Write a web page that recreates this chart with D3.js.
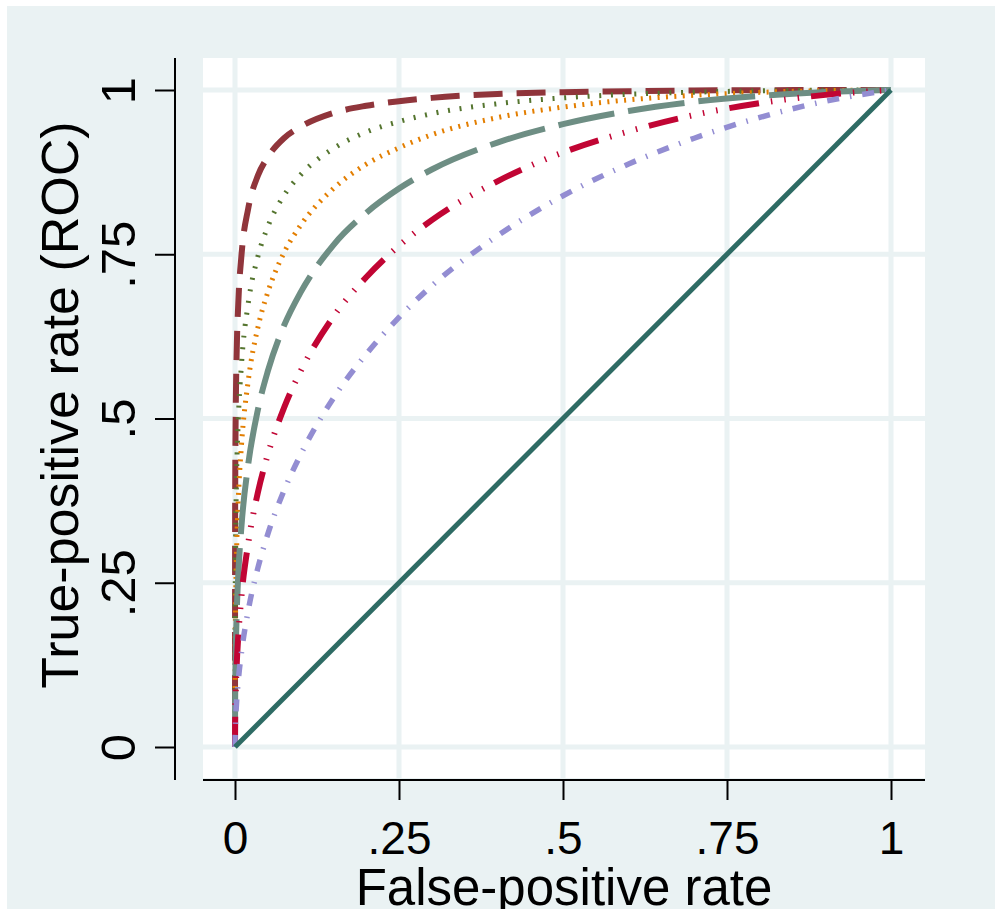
<!DOCTYPE html>
<html><head><meta charset="utf-8">
<script src="https://cdn.jsdelivr.net/npm/d3@7"></script>
<style>
html,body{margin:0;padding:0;background:#fff;}
svg{display:block;}
text{font-family:"Liberation Sans", Arial, Helvetica, sans-serif; fill:#000;}
</style></head><body>
<svg id="chart" width="995" height="909"></svg>
<script>
// ---- data ----
const fpr = [0,0.0002,0.0005,0.001,0.0025,0.005,0.01,0.02,0.035,0.05,0.075,0.1,0.15,0.2,0.25,0.3,0.4,0.5,0.6,0.7,0.8,0.9,1];
const tprMaroon   = [0,0.346,0.431,0.500,0.599,0.675,0.750,0.819,0.870,0.898,0.927,0.944,0.965,0.976,0.983,0.988,0.994,0.9967,0.998,0.9993,0.9997,0.9999,1];
const tprOlive    = [0,0.196,0.263,0.323,0.417,0.497,0.584,0.674,0.747,0.792,0.840,0.871,0.911,0.936,0.952,0.964,0.979,0.988,0.9935,0.9967,0.9987,0.9996,1];
const tprOrange   = [0,0.122,0.172,0.221,0.302,0.376,0.461,0.556,0.639,0.692,0.753,0.794,0.850,0.887,0.912,0.932,0.958,0.974,0.985,0.992,0.9964,0.999,1];
const tprTeal     = [0,0.069,0.103,0.138,0.200,0.262,0.338,0.429,0.514,0.572,0.642,0.692,0.764,0.813,0.850,0.879,0.920,0.948,0.968,0.982,0.991,0.997,1];
const tprCranberry= [0,0.0355,0.0565,0.0794,0.123,0.169,0.231,0.309,0.388,0.445,0.517,0.572,0.655,0.715,0.763,0.802,0.861,0.905,0.937,0.962,0.980,0.9926,1];
const tprLavender = [0,0.0168,0.0284,0.0419,0.0694,0.1008,0.145,0.207,0.273,0.324,0.391,0.445,0.531,0.598,0.654,0.702,0.778,0.839,0.8874,0.9266,0.9583,0.9829,1];
const refX = [0,1];
const refY = [0,1];
const tickValues = [0,0.25,0.5,0.75,1];
const tickLabels = ["0",".25",".5",".75","1"];
const xTitle = "False-positive rate";
const yTitle = "True-positive rate (ROC)";

// ---- styles ----
const series = [
  {y: tprMaroon,    color:"#90353B", width:6,   dash:"29,14"},
  {y: tprOlive,     color:"#55752F", width:5,   dash:"2,9.7"},
  {y: tprOrange,    color:"#E37E00", width:5,   dash:"2,6.4"},
  {y: tprTeal,      color:"#6E8E84", width:6,   dash:"57,14"},
  {y: tprCranberry, color:"#C10534", width:6,   dash:"30,12,1.5,12,1.5,12,1.5,12"},
  {y: tprLavender,  color:"#938DD2", width:5.5, dash:"12,11,1.5,11"}
];

const svg = d3.select("#chart");
const W = 995, H = 909;
const plot = {left:203, right:925, top:58, bottom:778};

svg.append("rect").attr("x",7).attr("y",6).attr("width",W-7).attr("height",H-6).attr("fill","#EAF2F3");
svg.append("rect").attr("x",plot.left).attr("y",plot.top)
   .attr("width",plot.right-plot.left).attr("height",plot.bottom-plot.top).attr("fill","#fff");

const x = d3.scaleLinear().domain([0,1]).range([235,891]);
const y = d3.scaleLinear().domain([0,1]).range([747,90]);

// grid
const grid = svg.append("g");
tickValues.forEach(v=>{
  grid.append("line").attr("x1",x(v)).attr("x2",x(v)).attr("y1",plot.top).attr("y2",plot.bottom)
      .attr("stroke","#EAF2F3").attr("stroke-width",5);
  grid.append("line").attr("x1",plot.left).attr("x2",plot.right).attr("y1",y(v)).attr("y2",y(v))
      .attr("stroke","#EAF2F3").attr("stroke-width",5);
});

// curves
const line = d3.line().x(d=>x(d[0])).y(d=>y(d[1])).curve(d3.curveMonotoneX);
series.forEach(s=>{
  const pts = fpr.map((f,i)=>[f,s.y[i]]);
  svg.append("path").attr("d",line(pts)).attr("fill","none")
     .attr("stroke",s.color).attr("stroke-width",s.width)
     .attr("stroke-dasharray",s.dash).attr("stroke-linecap","butt").attr("stroke-linejoin","round");
});
svg.append("path").attr("d",d3.line().x(d=>x(d[0])).y(d=>y(d[1]))(refX.map((v,i)=>[v,refY[i]])))
   .attr("fill","none").attr("stroke","#2E6B64").attr("stroke-width",5);

// y axis
const yAxis = d3.axisLeft(y).tickValues(tickValues).tickFormat((d,i)=>tickLabels[i]).tickSize(20).tickPadding(0);
const gy = svg.append("g").attr("transform","translate(175,0)").call(yAxis);
gy.select(".domain").remove();
gy.selectAll(".tick line").attr("stroke","#000").attr("stroke-width",2);
gy.selectAll(".tick text").attr("x",null).attr("dy",null)
  .attr("transform","translate(-40,0) rotate(-90)").attr("text-anchor","middle")
  .style("font-size","49px").style("font-family",'"Liberation Sans", Arial, sans-serif').attr("fill","#000");
svg.append("line").attr("x1",175).attr("x2",175).attr("y1",plot.top).attr("y2",plot.bottom+2)
   .attr("stroke","#000").attr("stroke-width",2);

// x axis
const xAxis = d3.axisBottom(x).tickValues(tickValues).tickFormat((d,i)=>tickLabels[i]).tickSize(20).tickPadding(0);
const gx = svg.append("g").attr("transform","translate(0,780)").call(xAxis);
gx.select(".domain").remove();
gx.selectAll(".tick line").attr("stroke","#000").attr("stroke-width",2);
gx.selectAll(".tick text").attr("y",74).attr("dy",null).attr("text-anchor","middle")
  .style("font-size","46px").style("font-family",'"Liberation Sans", Arial, sans-serif').attr("fill","#000");
svg.append("line").attr("x1",plot.left).attr("x2",plot.right).attr("y1",780).attr("y2",780)
   .attr("stroke","#000").attr("stroke-width",2);

// titles
svg.append("text").attr("x",(plot.left+plot.right)/2).attr("y",905).attr("text-anchor","middle")
   .style("font-size","51px").text(xTitle);
svg.append("text").attr("transform","translate(78,405) rotate(-90)").attr("text-anchor","middle")
   .style("font-size","52px").text(yTitle);
</script>
</body></html>
